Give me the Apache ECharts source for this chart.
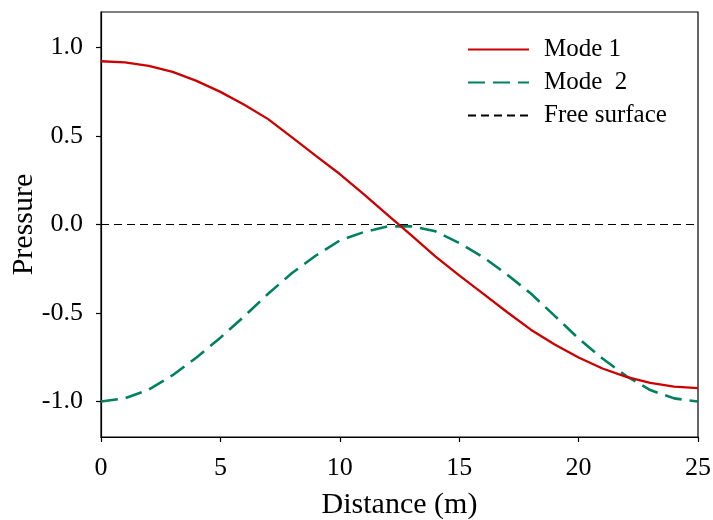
<!DOCTYPE html>
<html>
<head>
<meta charset="utf-8">
<script src="https://cdn.jsdelivr.net/npm/echarts@6/dist/echarts.min.js"></script>
<style>html,body{margin:0;padding:0;background:#fff}#c{width:713px;height:520px}</style>
</head>
<body>
<div id="c"></div>
<script>
var distance = [0,1,2,3,4,5,6,7,8,9,10,11,12,13,14,15,16,17,18,19,20,21,22,23,24,25];
var mode1 = [0.922,0.915,0.896,0.862,0.811,0.749,0.676,0.595,0.492,0.388,0.285,0.172,0.055,-0.062,-0.180,-0.287,-0.390,-0.494,-0.594,-0.678,-0.751,-0.813,-0.860,-0.894,-0.916,-0.924];
var mode2 = [-1.0,-0.982,-0.932,-0.851,-0.751,-0.639,-0.518,-0.391,-0.274,-0.175,-0.090,-0.043,-0.011,-0.010,-0.038,-0.105,-0.184,-0.282,-0.390,-0.516,-0.644,-0.757,-0.856,-0.935,-0.982,-1.0];
var freeX = [0, 25];
var freeY = [0, 0];
var yTicks = [-1.0,-0.5,0.0,0.5,1.0];
var xTicks = [0,5,10,15,20,25];

function pairs(xs, ys){ return xs.map(function(x,i){ return [x, ys[i]]; }); }

var FONT = 'Liberation Serif';
var chart = echarts.init(document.getElementById('c'));
chart.setOption({
  animation: false,
  backgroundColor: '#fff',
  grid: { left: 101, right: 15, top: 12, bottom: 83, containLabel: false, outerBoundsMode: 'none',
    show: true, borderColor: '#000', borderWidth: 1.2, backgroundColor: 'transparent' },
  legend: {
    orient: 'vertical', left: 467, top: 37, padding: 0,
    itemWidth: 61, itemHeight: 14, itemGap: 8,
    itemStyle: { opacity: 0, color: 'rgba(0,0,0,0)', borderWidth: 0 },
    textStyle: { fontFamily: FONT, fontSize: 25, color: '#000', lineHeight: 25, padding: [0,0,0,10] },
    data: ['Mode 1', 'Mode  2', 'Free surface']
  },
  xAxis: {
    type: 'value', min: 0, max: 25, interval: 5,
    name: 'Distance (m)', nameLocation: 'middle', nameGap: 53, nameMoveOverlap: false,
    nameTextStyle: { fontFamily: FONT, fontSize: 30, color: '#000' },
    axisLine: { onZero: false, lineStyle: { color: '#000', width: 1.2 } },
    axisTick: { show: true, inside: false, length: 5, lineStyle: { color: '#000', width: 1.2 } },
    axisLabel: { fontFamily: FONT, fontSize: 26, color: '#000', margin: 18 },
    splitLine: { show: false }
  },
  yAxis: {
    type: 'value', min: -1.2, max: 1.2,
    name: 'Pressure', nameLocation: 'middle', nameGap: 62, nameMoveOverlap: false,
    nameTextStyle: { fontFamily: FONT, fontSize: 30, color: '#000' },
    axisLine: { show: true, onZero: false, lineStyle: { color: '#000', width: 1.2 } },
    axisTick: { show: true, inside: false, length: 5, customValues: yTicks, lineStyle: { color: '#000', width: 1.2 } },
    axisLabel: { fontFamily: FONT, fontSize: 26, color: '#000', margin: 18, customValues: yTicks,
      formatter: function(v){ return v.toFixed(1); } },
    splitLine: { show: false }
  },
  series: [
    { name: 'Free surface', type: 'line', data: pairs(freeX, freeY), symbol: 'none', z: 1,
      lineStyle: { color: '#000', width: 1.2, type: [8, 5] }, itemStyle: { color: '#000' } },
    { name: 'Mode 1', type: 'line', data: pairs(distance, mode1), symbol: 'none', z: 3,
      lineStyle: { color: '#cc0000', width: 2.3, type: 'solid' }, itemStyle: { color: '#cc0000' } },
    { name: 'Mode  2', type: 'line', data: pairs(distance, mode2), symbol: 'none', z: 2,
      lineStyle: { color: '#008060', width: 2.6, type: [17, 8] }, itemStyle: { color: '#008060' } }
  ]
});
</script>
</body>
</html>
